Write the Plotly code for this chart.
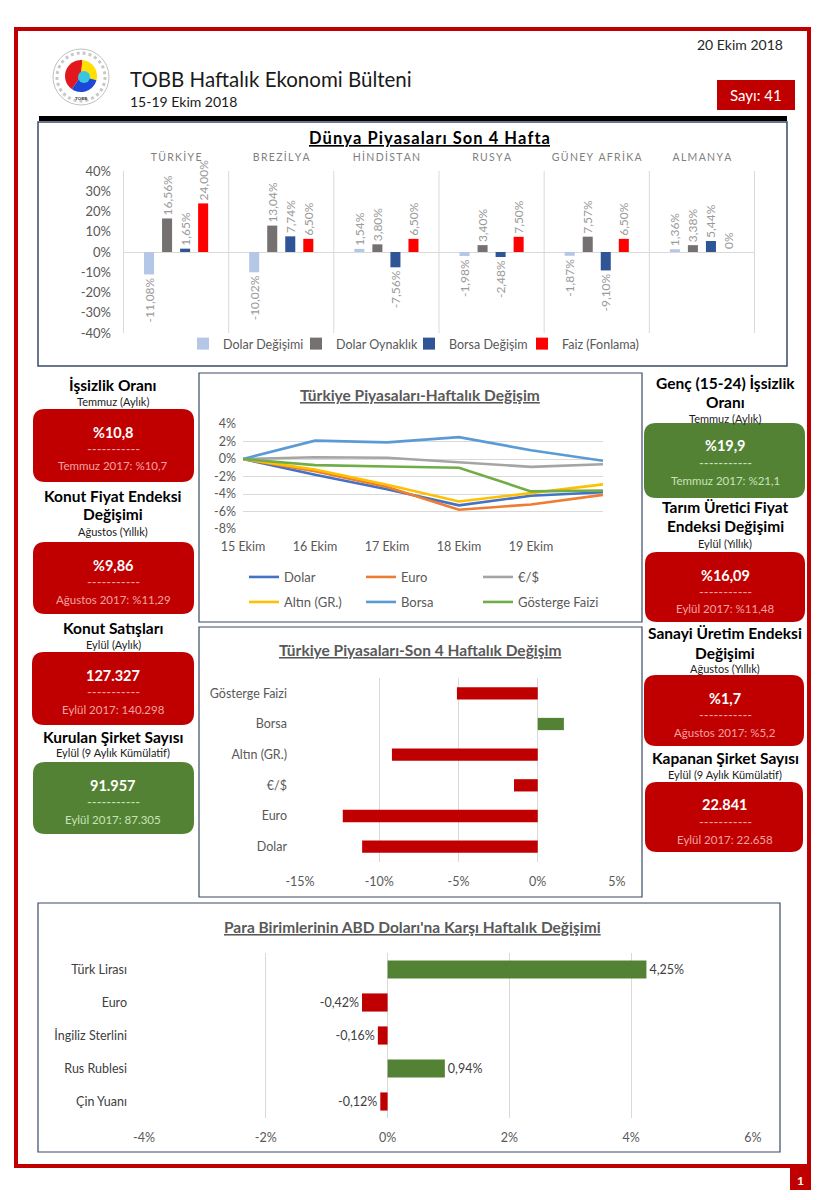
import math
import plotly.graph_objects as go

W, H = 831, 1200
FONT = "Lato, 'Open Sans', sans-serif"
GREY = "#595959"


def px(x):
    return x / W


def py(y):
    return 1 - y / H


# ---------------- data ----------------
countries = ["TÜRKİYE", "BREZİLYA", "HİNDİSTAN", "RUSYA", "GÜNEY AFRİKA", "ALMANYA"]
world_series = ["Dolar Değişimi", "Dolar Oynaklık", "Borsa Değişim", "Faiz (Fonlama)"]
dolar_degisimi = [-11.08, -10.02, 1.54, -1.98, -1.87, 1.36]
dolar_oynaklik = [16.56, 13.04, 3.80, 3.40, 7.57, 3.38]
borsa_degisim = [1.65, 7.74, -7.56, -2.48, -9.10, 5.44]
faiz_fonlama = [24.00, 6.50, 6.50, 7.50, 6.50, 0]
world_colors = ["#B4C7E7", "#767171", "#2F5597", "#FF0000"]
world_ticks = [-40, -30, -20, -10, 0, 10, 20, 30, 40]

days = ["15 Ekim", "16 Ekim", "17 Ekim", "18 Ekim", "19 Ekim", ""]
line_names = ["Dolar", "Euro", "€/$", "Altın (GR.)", "Borsa", "Gösterge Faizi"]
line_dolar = [0, -1.8, -3.45, -5.3, -4.2, -3.8]
line_euro = [0, -1.4, -3.2, -5.8, -5.2, -4.1]
line_eurusd = [0, 0.2, 0.15, -0.4, -0.9, -0.6]
line_altin = [0, -1.2, -2.95, -4.85, -3.9, -2.9]
line_borsa = [0, 2.1, 1.9, 2.5, 1.0, -0.2]
line_faiz = [0, -0.7, -0.85, -1.0, -3.7, -3.6]
line_colors = ["#4472C4", "#ED7D31", "#A5A5A5", "#FFC000", "#5B9BD5", "#70AD47"]
line_ticks = [-8, -6, -4, -2, 0, 2, 4]

son4_items = ["Dolar", "Euro", "€/$", "Altın (GR.)", "Borsa", "Gösterge Faizi"]
son4_values = [-11.08, -12.3, -1.5, -9.2, 1.65, -5.1]
son4_ticks = [-15, -10, -5, 0, 5]

currencies = ["Türk Lirası", "Euro", "İngiliz Sterlini", "Rus Rublesi", "Çin Yuanı"]
currency_changes = [4.25, -0.42, -0.16, 0.94, -0.12]
currency_ticks = [-4, -2, 0, 2, 4, 6]

card_titles = [
    ["İşsizlik Oranı"], ["Konut Fiyat Endeksi", "Değişimi"], ["Konut Satışları"],
    ["Kurulan Şirket Sayısı"], ["Genç (15-24) İşsizlik", "Oranı"],
    ["Tarım Üretici Fiyat", "Endeksi Değişimi"], ["Sanayi Üretim Endeksi", "Değişimi"],
    ["Kapanan Şirket Sayısı"],
]
card_periods = ["Temmuz (Aylık)", "Ağustos (Yıllık)", "Eylül (Aylık)", "Eylül (9 Aylık Kümülatif)",
                "Temmuz (Aylık)", "Eylül (Yıllık)", "Ağustos (Yıllık)", "Eylül (9 Aylık Kümülatif)"]
card_values = ["%10,8", "%9,86", "127.327", "91.957", "%19,9", "%16,09", "%1,7", "22.841"]
card_previous = ["Temmuz 2017: %10,7", "Ağustos 2017: %11,29", "Eylül 2017: 140.298",
                 "Eylül 2017: 87.305", "Temmuz 2017: %21,1", "Eylül 2017: %11,48",
                 "Ağustos 2017: %5,2", "Eylül 2017: 22.658"]
card_good = [False, False, False, True, True, False, False, False]

# ---------------- layout geometry (pixels) ----------------
card_geo = [
    # (center x, box x0, box x1, title ys, period y, box top, box bottom)
    (113, 33, 194, [385], 402, 409, 482),
    (113, 33, 194, [496, 514], 531, 542, 614),
    (113, 32, 194, [628], 644, 652, 725),
    (113, 33, 194, [737], 752, 762, 834),
    (725, 644, 805, [383, 402], 418, 423, 498),
    (725, 645, 805, [507, 526], 543, 552, 622),
    (725, 644, 804, [633, 653], 668, 675, 746),
    (725, 645, 803, [758], 774, 782, 852),
]


def pct_text(v):
    if v == 0:
        return "0%"
    return f"{v:.2f}%".replace(".", ",")


def tick_text(v):
    return f"{v}%"


fig = go.Figure()

# ---------------- top grouped bars ----------------
for i, (name, vals, col) in enumerate(zip(
        world_series, [dolar_degisimi, dolar_oynaklik, borsa_degisim, faiz_fonlama],
        world_colors)):
    fig.add_trace(go.Bar(
        x=countries, y=vals, name=name, marker_color=col, marker_line_width=0,
        text=[pct_text(v) for v in vals], textposition="outside", textangle=-90,
        textfont=dict(size=12, color="#9A9A9A", family=FONT), constraintext="none",
        cliponaxis=False, xaxis="x", yaxis="y", legend="legend", hoverinfo="skip",
        legendwidth=68 if i < len(world_series) - 1 else 100,
    ))

# ---------------- line chart ----------------
for i, (name, vals, col) in enumerate(zip(
        line_names,
        [line_dolar, line_euro, line_eurusd, line_altin, line_borsa, line_faiz],
        line_colors)):
    fig.add_trace(go.Scatter(
        x=list(range(len(days))), y=vals, name=name, mode="lines",
        line=dict(color=col, width=2.6), xaxis="x2", yaxis="y2",
        legend="legend2" if i < 3 else "legend3", hoverinfo="skip",
        legendwidth=72 if i % 3 < 2 else 110,
    ))

# ---------------- Son 4 hafta bars ----------------
fig.add_trace(go.Bar(
    x=son4_values, y=son4_items, orientation="h", width=0.4,
    marker_color=["#C00000" if v < 0 else "#548235" for v in son4_values],
    marker_line_width=0, showlegend=False, xaxis="x3", yaxis="y3", hoverinfo="skip",
))

# ---------------- currency bars ----------------
fig.add_trace(go.Bar(
    x=currency_changes, y=currencies, orientation="h", width=0.55,
    marker_color=["#C00000" if v < 0 else "#548235" for v in currency_changes],
    marker_line_width=0, text=[pct_text(v) for v in currency_changes],
    textposition="outside", textfont=dict(size=12.5, color="#404040", family=FONT),
    constraintext="none", cliponaxis=False,
    showlegend=False, xaxis="x4", yaxis="y4", hoverinfo="skip",
))

# ---------------- shapes ----------------
shapes = []


def rect(x0, y0, x1, y1, line=None, lw=0, fill=None):
    shapes.append(dict(type="rect", xref="paper", yref="paper",
                       x0=px(x0), x1=px(x1), y0=py(y1), y1=py(y0),
                       line=dict(color=line or "rgba(0,0,0,0)", width=lw),
                       fillcolor=fill or "rgba(0,0,0,0)", layer="below"))


def rrect(x0, y0, x1, y1, r, fill):
    pts = [
        f"M {px(x0 + r)},{py(y0)}",
        f"L {px(x1 - r)},{py(y0)}",
        f"Q {px(x1)},{py(y0)} {px(x1)},{py(y0 + r)}",
        f"L {px(x1)},{py(y1 - r)}",
        f"Q {px(x1)},{py(y1)} {px(x1 - r)},{py(y1)}",
        f"L {px(x0 + r)},{py(y1)}",
        f"Q {px(x0)},{py(y1)} {px(x0)},{py(y1 - r)}",
        f"L {px(x0)},{py(y0 + r)}",
        f"Q {px(x0)},{py(y0)} {px(x0 + r)},{py(y0)} Z",
    ]
    shapes.append(dict(type="path", xref="paper", yref="paper", path=" ".join(pts),
                       fillcolor=fill, line=dict(width=0), layer="below"))


def wedge(cx, cy, r, a0, a1, fill):
    pts = [f"M {px(cx)},{py(cy)}"]
    n = 24
    for i in range(n + 1):
        a = math.radians(a0 + (a1 - a0) * i / n)
        pts.append(f"L {px(cx + r * math.cos(a))},{py(cy - r * math.sin(a))}")
    pts.append("Z")
    shapes.append(dict(type="path", xref="paper", yref="paper", path=" ".join(pts),
                       fillcolor=fill, line=dict(width=0)))


# outer red frame
rect(16, 29, 809, 1166, line="#C00000", lw=4)
# page number box
rect(790, 1168, 811, 1190, fill="#C00000")
# Sayı box
rect(717, 80, 795, 110, fill="#C00000")
# black bar above top chart
rect(39, 116, 787, 121, fill="#000000")
# chart panels
rect(38, 122, 787, 366, line="#3A4A66", lw=1.5)
rect(199, 373, 642, 622, line="#3A4A66", lw=1.2)
rect(199, 627, 642, 897, line="#3A4A66", lw=1.2)
rect(38, 903, 780, 1152, line="#3A4A66", lw=1.2)

# logo
shapes.append(dict(type="circle", xref="paper", yref="paper",
                   x0=px(53), x1=px(109), y0=py(105), y1=py(49),
                   line=dict(color="#B0B0B0", width=0.8), fillcolor="white"))
shapes.append(dict(type="circle", xref="paper", yref="paper",
                   x0=px(57), x1=px(105), y0=py(101), y1=py(53),
                   line=dict(color="#C8C8C8", width=3, dash="dot"), fillcolor="white"))
wedge(81, 76, 16, 85, 235, "#E3171E")
wedge(81, 76, 16, -15, 85, "#FFE000")
wedge(81, 76, 16, 235, 345, "#1D47D6")
shapes.append(dict(type="circle", xref="paper", yref="paper",
                   x0=px(78), x1=px(90), y0=py(83), y1=py(71),
                   line=dict(width=0), fillcolor="#38C6E0"))

# top chart separators (category boundaries)
for i in range(len(countries) + 1):
    shapes.append(dict(type="line", xref="x", yref="y", x0=i - 0.5, x1=i - 0.5,
                       y0=-40, y1=40, line=dict(color="#D9D9D9", width=1), layer="below"))

# indicator cards
for good, geo in zip(card_good, card_geo):
    cx, x0, x1, tys, pyy, top, bot = geo
    rrect(x0, top, x1, bot, 12, "#548235" if good else "#C00000")

# ---------------- annotations ----------------
ann = []


def text(x, y, s, size, color="#000000", xanchor="center", yanchor="middle"):
    ann.append(dict(x=px(x), y=py(y), xref="paper", yref="paper", text=s, showarrow=False,
                    xanchor=xanchor, yanchor=yanchor,
                    font=dict(size=size, color=color, family=FONT)))


text(128, 79, "TOBB Haftalık Ekonomi Bülteni", 20.5, "#1A1A1A", xanchor="left")
text(128, 101, "15-19 Ekim 2018", 14, "#1A1A1A", xanchor="left")
text(785, 45, "20 Ekim 2018", 14, "#262626", xanchor="right")
text(756, 95, "Sayı: 41", 15, "white")
text(800.5, 1180, "<b>1</b>", 12, "white")
text(81, 98, "<b>TOBB</b>", 4.5, "#333333")

hair = "\u200a"
text(429, 138, "<u><b>" + hair.join("Dünya Piyasaları Son 4 Hafta") + "</b></u>", 16.5, "#000000")
text(420, 395, "<u><b>Türkiye Piyasaları-Haftalık Değişim</b></u>", 15.5, GREY)
text(420, 650, "<u><b>Türkiye Piyasaları-Son 4 Haftalık Değişim</b></u>", 15.5, GREY)
text(412, 927, "<u><b>Para Birimlerinin ABD Doları'na Karşı Haftalık Değişimi</b></u>", 15.5, GREY)

for title_lines, period, value, prev, good, geo in zip(card_titles, card_periods, card_values,
                                                       card_previous, card_good, card_geo):
    cx, x0, x1, tys, pyy, top, bot = geo
    for line, ty in zip(title_lines, tys):
        text(cx, ty, "<b>" + line + "</b>", 15.5, "#000000")
    text(cx, pyy, period, 11, "#1A1A1A")
    soft = "#C9E3B5" if good else "#F4A3A3"
    text(cx, top + 23, "<b>" + value + "</b>", 14.5, "white")
    text(cx, top + 40, "-----------", 13, soft)
    text(cx, top + 57, prev, 11.5, soft)

# ---------------- layout ----------------
axis_font = dict(size=12.5, color=GREY, family=FONT)
thin = "\u2009"
fig.update_layout(
    template="none",
    width=W, height=H, margin=dict(l=0, r=0, t=0, b=0, pad=0, autoexpand=False),
    paper_bgcolor="white", plot_bgcolor="rgba(0,0,0,0)",
    font=dict(family=FONT, color=GREY),
    barmode="group", bargap=0.314, bargroupgap=0.444,
    shapes=shapes, annotations=ann,
    xaxis=dict(domain=[px(123), px(755)], anchor="y", side="top", type="category",
               tickvals=countries, ticktext=[thin.join(c) for c in countries],
               tickfont=dict(size=10.5, color="#7F7F7F", family=FONT),
               showgrid=False, showline=False, zeroline=False, ticks="",
               ticklabelstandoff=7, automargin=False),
    yaxis=dict(domain=[py(333), py(171)], anchor="x", range=[-40, 40],
               tickvals=world_ticks, ticktext=[tick_text(v) for v in world_ticks],
               tickfont=dict(size=13, color=GREY, family=FONT),
               showgrid=False, zeroline=True, zerolinecolor="#D9D9D9", zerolinewidth=1,
               showline=False, ticks="", ticklabelstandoff=11, automargin=False),
    xaxis2=dict(domain=[px(243), px(603)], anchor="y2", range=[0, len(days) - 1],
                tickvals=list(range(len(days) - 1)), ticktext=days[:-1], tickfont=axis_font,
                showgrid=False, zeroline=False, showline=False, ticks="",
                ticklabelstandoff=8, automargin=False),
    yaxis2=dict(domain=[py(529), py(424)], anchor="x2", range=[-8, 4],
                tickvals=line_ticks, ticktext=[tick_text(v) for v in line_ticks],
                tickfont=axis_font, gridcolor="#D9D9D9", gridwidth=1,
                zeroline=False, showline=False, ticks="", ticklabelstandoff=6,
                automargin=False),
    xaxis3=dict(domain=[px(300), px(617)], anchor="y3", range=[-15, 5],
                tickvals=son4_ticks, ticktext=[tick_text(v) for v in son4_ticks],
                tickfont=axis_font, gridcolor="#D9D9D9", zeroline=False,
                showline=False, ticks="", ticklabelstandoff=10, automargin=False),
    yaxis3=dict(domain=[py(862), py(678)], anchor="x3", type="category",
                tickfont=axis_font, showgrid=False, zeroline=False, showline=False,
                ticks="", ticklabelstandoff=12, automargin=False),
    xaxis4=dict(domain=[px(144), px(753)], anchor="y4", range=[-4, 6],
                tickvals=currency_ticks, ticktext=[tick_text(v) for v in currency_ticks],
                tickfont=axis_font, gridcolor="#D9D9D9", zeroline=False,
                showline=False, ticks="", ticklabelstandoff=10, automargin=False),
    yaxis4=dict(domain=[py(1118), py(953)], anchor="x4", type="category",
                autorange="reversed", tickfont=dict(size=12.5, color="#404040", family=FONT),
                showgrid=False, zeroline=False, showline=False, ticks="",
                ticklabelstandoff=16, automargin=False),
    legend=dict(orientation="h", x=px(183), y=py(344), xanchor="left", yanchor="middle",
                font=dict(size=12.5, color=GREY, family=FONT), bgcolor="rgba(0,0,0,0)",
                itemclick=False),
    legend2=dict(orientation="h", x=px(244), y=py(577), xanchor="left", yanchor="middle",
                 font=dict(size=13, color=GREY, family=FONT), bgcolor="rgba(0,0,0,0)"),
    legend3=dict(orientation="h", x=px(244), y=py(602), xanchor="left", yanchor="middle",
                 font=dict(size=13, color=GREY, family=FONT), bgcolor="rgba(0,0,0,0)"),
    showlegend=True,
)

fig.write_html("out.html", config={"displayModeBar": False},
               post_script="document.body.style.margin='0px';")
